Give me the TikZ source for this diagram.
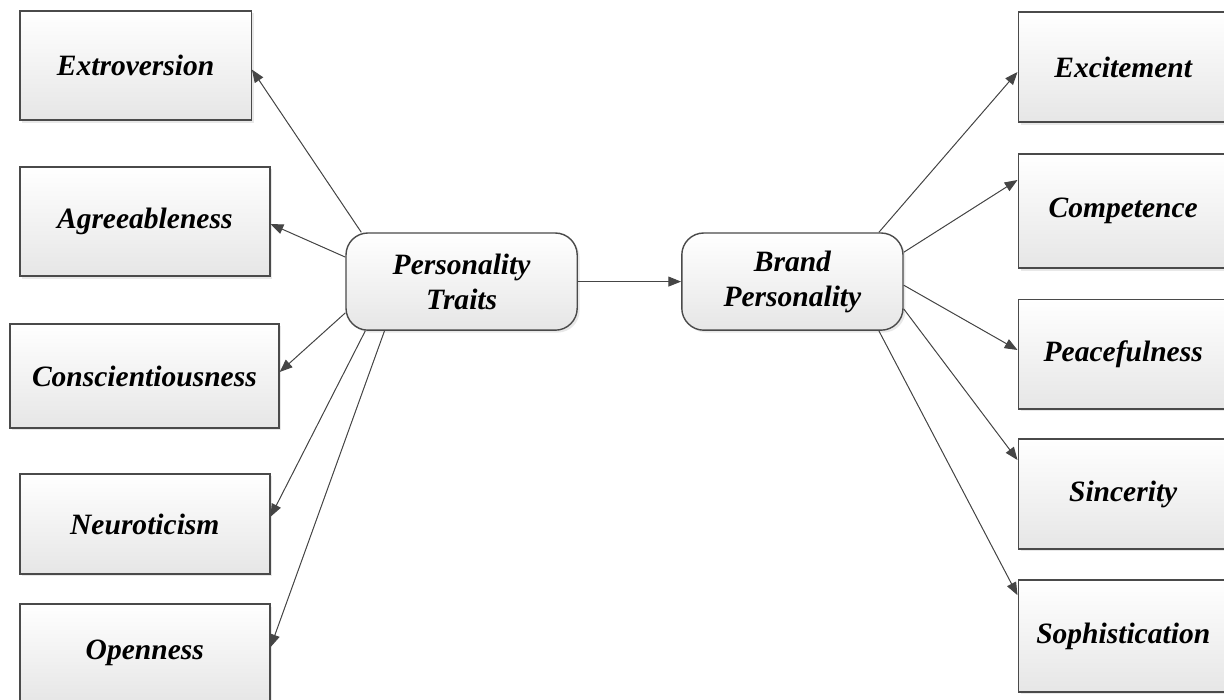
\documentclass[tikz,border=0pt]{standalone}
\usepackage{fontspec}
\setmainfont{Liberation Serif}
\usepackage{tikz}
\usetikzlibrary{arrows.meta,shadows}
\definecolor{boxedge}{HTML}{4A4A4A}
\definecolor{boxlow}{HTML}{E6E6E6}
\definecolor{linkgray}{HTML}{454545}

\tikzset{
  dimbox/.style={draw=boxedge,line width=1pt,top color=white,bottom color=boxlow,
    drop shadow={opacity=0.18,shadow xshift=0.06cm,shadow yshift=-0.06cm},
    font=\fontsize{21}{25}\selectfont\bfseries\itshape,align=center},
  corebox/.style={dimbox,rounded corners=0.55cm,minimum width=5.78cm,minimum height=2.43cm},
  link/.style={draw=linkgray,line width=0.7pt,-{Triangle[length=0.32cm,width=0.25cm]},fill=linkgray}
}

\begin{document}
\begin{tikzpicture}
        \useasboundingbox (0,0) rectangle (30.6,17.5);
        % the two central concepts
        \node[corebox] (pt) at (11.54,10.46) {Personality\\Traits};
        \node[corebox,minimum width=5.53cm] (bp) at (19.81,10.46) {Brand\\Personality};
        % personality traits (left column)
        \node[dimbox,minimum width=5.78cm,minimum height=2.73cm] (ext) at (3.39,15.86) {Extroversion};
        \node[dimbox,minimum width=6.25cm,minimum height=2.73cm] (agr) at (3.62,11.96) {Agreeableness};
        \node[dimbox,minimum width=6.73cm,minimum height=2.6cm] (con) at (3.61,8.1) {Conscientiousness};
        \node[dimbox,minimum width=6.25cm,minimum height=2.5cm] (neu) at (3.62,4.4) {Neuroticism};
        \node[dimbox,minimum width=6.25cm,minimum height=2.45cm] (ope) at (3.62,1.17) {Openness};
        % brand personality dimensions (right column)
        \node[dimbox,minimum width=5.25cm,minimum height=2.75cm] (exc) at (28.08,15.82) {Excitement};
        \node[dimbox,minimum width=5.25cm,minimum height=2.85cm] (cmp) at (28.08,12.22) {Competence};
        \node[dimbox,minimum width=5.25cm,minimum height=2.73cm] (pea) at (28.08,8.64) {Peacefulness};
        \node[dimbox,minimum width=5.25cm,minimum height=2.75cm] (sin) at (28.08,5.15) {Sincerity};
        \node[dimbox,minimum width=5.25cm,minimum height=2.8cm] (sop) at (28.08,1.6) {Sophistication};

        \draw[link] (pt.east) -- (bp.west);
        % fan out to the left
        \draw[link] ([xshift=0.4cm]pt.north west) -- ([yshift=-0.1cm]ext.east);
        \draw[link] ([yshift=-0.62cm]pt.north west) -- ([yshift=-0.06cm]agr.east);
        \draw[link] ([yshift=0.45cm]pt.south west) -- ([yshift=0.1cm]con.east);
        \draw[link] ([xshift=0.5cm]pt.south west) -- ([yshift=0.18cm]neu.east);
        \draw[link] ([xshift=0.98cm]pt.south west) -- ([yshift=0.15cm]ope.east);
        % fan out to the right
        \draw[link] ([xshift=-0.62cm]bp.north east) -- ([yshift=-0.12cm]exc.west);
        \draw[link] ([yshift=-0.5cm]bp.north east) -- ([yshift=0.78cm]cmp.west);
        \draw[link] ([yshift=-0.09cm]bp.east) -- ([yshift=0.11cm]pea.west);
        \draw[link] ([yshift=0.55cm]bp.south east) -- ([yshift=0.85cm]sin.west);
        \draw[link] ([xshift=-0.62cm]bp.south east) -- ([yshift=1.02cm]sop.west);
      \end{tikzpicture}
\end{document}
